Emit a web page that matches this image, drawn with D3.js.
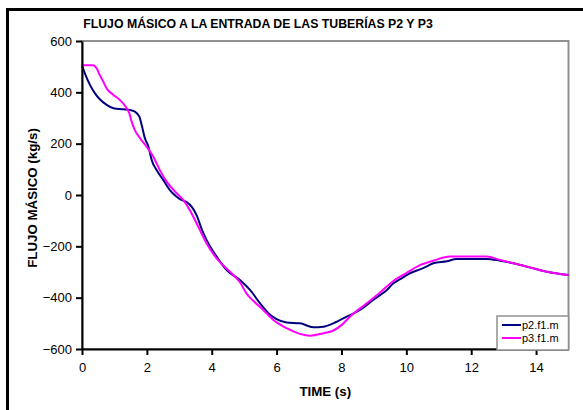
<!DOCTYPE html>
<html>
<head>
<meta charset="utf-8">
<script src="https://cdn.jsdelivr.net/npm/d3@7"></script>
<style>
  html, body { margin: 0; padding: 0; background: #fff; }
  svg { display: block; font-family: "Liberation Sans", Arial, sans-serif; }
</style>
</head>
<body>
<svg id="chart" width="583" height="410"></svg>
<script>
// Time axis (s) and mass flow (kg/s) samples for each pipe inlet
const p2Time = [0, 0.1, 0.25, 0.4, 0.55, 0.76, 0.97, 1.27, 1.48, 1.63, 1.77, 1.84, 1.94, 2.05, 2.15, 2.30, 2.51, 2.71, 2.9, 3.02, 3.23, 3.38, 3.54, 3.69, 3.84, 4.15, 4.46, 4.87, 5.18, 5.49, 5.80, 6.00, 6.31, 6.72, 7.13, 7.44, 7.75, 8.16, 8.57, 8.98, 9.19, 9.40, 9.60, 9.81, 10.01, 10.22, 10.42, 10.68, 10.83, 11.25, 11.55, 12.48, 12.89, 13.30, 13.81, 14.33, 15];
const p2Flow = [505, 470, 428, 396, 373, 351, 338, 334, 331, 325, 305, 273, 221, 188, 136, 97, 58, 19, -5, -16, -28, -45, -80, -133, -175, -240, -292, -331, -370, -422, -467, -484, -497, -500, -515, -513, -500, -474, -448, -409, -390, -370, -344, -328, -312, -299, -290, -275, -266, -258, -249, -249, -256, -266, -282, -299, -312];

const p3Time = [0, 0.35, 0.45, 0.55, 0.66, 0.76, 0.97, 1.17, 1.33, 1.46, 1.53, 1.63, 1.79, 1.99, 2.20, 2.40, 2.61, 2.92, 3.12, 3.33, 3.59, 3.84, 4.15, 4.56, 4.87, 5.08, 5.28, 5.59, 5.90, 6.31, 6.72, 7.03, 7.44, 7.75, 8.01, 8.26, 8.78, 9.19, 9.60, 10.01, 10.42, 10.83, 11.35, 12.48, 12.89, 13.30, 13.81, 14.33, 15];
const p3Flow = [506, 506, 494, 467, 441, 415, 390, 370, 347, 318, 286, 253, 221, 188, 149, 97, 52, 7, -19, -60, -125, -188, -247, -299, -340, -385, -412, -448, -487, -519, -541, -548, -539, -528, -506, -474, -422, -380, -335, -303, -273, -256, -240, -240, -253, -266, -282, -299, -312];

const xTicks = [0, 2, 4, 6, 8, 10, 12, 14];
const yTicks = [-600, -400, -200, 0, 200, 400, 600];
const seriesNames = ["p2.f1.m", "p3.f1.m"];
const seriesColors = ["#000080", "#ff00ff"];

const titleText = "FLUJO MÁSICO A LA ENTRADA DE LAS TUBERÍAS P2 Y P3";
const xTitle = "TIME (s)";
const yTitle = "FLUJO MÁSICO (kg/s)";

const svg = d3.select("#chart");

// Chart frame (extends past the right and bottom window edges)
svg.append("rect")
  .attr("x", 7.5).attr("y", 9.5)
  .attr("width", 600).attr("height", 420)
  .attr("fill", "#fff").attr("stroke", "#000").attr("stroke-width", 3);

const plot = { left: 82, right: 568.5, top: 41, bottom: 349 };

const x = d3.scaleLinear().domain([0, 15]).range([plot.left, plot.right]);
const y = d3.scaleLinear().domain([-600, 600]).range([plot.bottom, plot.top]);

// Plot area border (grey top and right)
svg.append("rect")
  .attr("x", plot.left).attr("y", plot.top)
  .attr("width", plot.right - plot.left).attr("height", plot.bottom - plot.top)
  .attr("fill", "none").attr("stroke", "#909090").attr("stroke-width", 2);

// Title
svg.append("text")
  .attr("x", 258).attr("y", 28)
  .attr("text-anchor", "middle")
  .attr("font-weight", "bold").attr("font-size", 12.3)
  .text(titleText);

// Series lines
const series = [
  { t: p2Time, v: p2Flow },
  { t: p3Time, v: p3Flow }
];
const line = d3.line()
  .x(d => x(d[0])).y(d => y(d[1]))
  .curve(d3.curveMonotoneX);

series.forEach((s, i) => {
  const pts = s.t.map((t, k) => [t, s.v[k]]);
  svg.append("path")
    .datum(pts)
    .attr("d", line)
    .attr("fill", "none")
    .attr("stroke", seriesColors[i])
    .attr("stroke-width", 2)
    .attr("stroke-linejoin", "round");
});

// Axes
const xAxis = d3.axisBottom(x).tickValues(xTicks).tickSize(6).tickPadding(8).tickSizeOuter(0);
const yAxis = d3.axisLeft(y).tickValues(yTicks).tickSize(6).tickPadding(4).tickSizeOuter(0);

const gx = svg.append("g").attr("transform", `translate(0,${plot.bottom})`).call(xAxis);
const gy = svg.append("g").attr("transform", `translate(${plot.left},0)`).call(yAxis);

[gx, gy].forEach(g => {
  g.select(".domain").attr("stroke", "#000").attr("stroke-width", 2);
  g.selectAll(".tick line").attr("stroke", "#000").attr("stroke-width", 2);
  g.selectAll(".tick text")
    .attr("fill", "#000")
    .attr("font-family", "Liberation Sans, Arial, sans-serif")
    .attr("font-size", 13);
});

// Axis titles
svg.append("text")
  .attr("x", (plot.left + plot.right) / 2).attr("y", 396)
  .attr("text-anchor", "middle")
  .attr("font-weight", "bold").attr("font-size", 13.3)
  .text(xTitle);

svg.append("text")
  .attr("transform", `translate(37,${(plot.top + plot.bottom) / 2 + 3}) rotate(-90)`)
  .attr("text-anchor", "middle")
  .attr("font-weight", "bold").attr("font-size", 13.3)
  .text(yTitle);

// Legend
const legend = svg.append("g");
legend.append("rect")
  .attr("x", 497).attr("y", 316)
  .attr("width", plot.right - 497).attr("height", 34)
  .attr("fill", "#fff").attr("stroke", "#909090").attr("stroke-width", 1.5);

seriesNames.forEach((name, i) => {
  const ry = 325 + i * 13;
  legend.append("line")
    .attr("x1", 502).attr("x2", 521)
    .attr("y1", ry).attr("y2", ry)
    .attr("stroke", seriesColors[i]).attr("stroke-width", 2);
  legend.append("text")
    .attr("x", 522).attr("y", ry + 4)
    .attr("font-size", 11)
    .text(name);
});
</script>
</body>
</html>
